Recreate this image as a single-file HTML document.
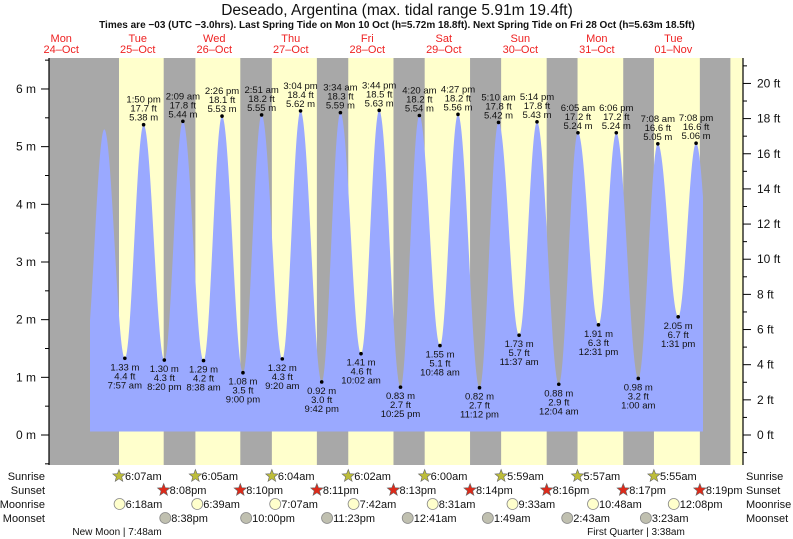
<!DOCTYPE html>
<html><head><meta charset="utf-8"><style>
body{margin:0;background:#fff;}
svg{display:block;font-family:"Liberation Sans",sans-serif;}
</style></head><body>
<svg id="c" width="793" height="539" viewBox="0 0 793 539" xmlns="http://www.w3.org/2000/svg">
<text x="397" y="15" font-size="15.5" text-anchor="middle" fill="#111">Deseado, Argentina (max. tidal range 5.91m 19.4ft)</text>
<text x="397" y="28" font-size="10" font-weight="bold" text-anchor="middle" fill="#111">Times are −03 (UTC −3.0hrs). Last Spring Tide on Mon 10 Oct (h=5.72m 18.8ft). Next Spring Tide on Fri 28 Oct (h=5.63m 18.5ft)</text>
<g id="bands"></g><g id="tide"></g><g id="axes"></g><g id="labels"></g><g id="bottom"></g>
</svg>
<script>
// time t = hours from 25-Oct 00:00
const dayNames=["Mon","Tue","Wed","Thu","Fri","Sat","Sun","Mon","Tue"];
const dayDates=["24–Oct","25–Oct","26–Oct","27–Oct","28–Oct","29–Oct","30–Oct","31–Oct","01–Nov"];
const sunrise=["6:07am","6:05am","6:04am","6:02am","6:00am","5:59am","5:57am","5:55am"];
const sunset=["8:08pm","8:10pm","8:11pm","8:13pm","8:14pm","8:16pm","8:17pm","8:19pm"];
const moonrise=[[0,"6:18am"],[1,"6:39am"],[2,"7:07am"],[3,"7:42am"],[4,"8:31am"],[5,"9:33am"],[6,"10:48am"],[7,"12:08pm"]];
const moonset=[[0,"8:38pm"],[1,"10:00pm"],[2,"11:23pm"],[4,"12:41am"],[5,"1:49am"],[6,"2:43am"],[7,"3:23am"]];
const tideTimes=["7:20pm","1:30am","7:57am","1:50pm","8:20pm","2:09am","8:38am","2:26pm","9:00pm","2:51am","9:20am","3:04pm","9:42pm","3:34am","10:02am","3:44pm","10:25pm","4:20am","10:48am","4:27pm","11:12pm","5:10am","11:37am","5:14pm","12:04am","6:05am","12:31pm","6:06pm","1:00am","7:08am","1:31pm","7:08pm","1:50am"];
const tideDays=[-1,0,0,0,0,1,1,1,1,2,2,2,2,3,3,3,3,4,4,4,4,5,5,5,6,6,6,6,7,7,7,7,8];
const tideHeights=[1.3,5.3,1.33,5.38,1.30,5.44,1.29,5.53,1.08,5.55,1.32,5.62,0.92,5.59,1.41,5.63,0.83,5.54,1.55,5.56,0.82,5.42,1.73,5.43,0.88,5.24,1.91,5.24,0.98,5.05,2.05,5.06,1.1];
const tideShown=[0,0,1,1,1,1,1,1,1,1,1,1,1,1,1,1,1,1,1,1,1,1,1,1,1,1,1,1,1,1,1,1,0];

const NS="http://www.w3.org/2000/svg";
const X0=99.5,PH=3.188,Y0=435,PM=57.67,TOP=58,BOT=465,LEFT=49,RIGHT=743;
const xs=t=>X0+t*PH, ys=m=>Y0-m*PM;
function ph(s){const m=s.match(/(\d+):(\d+)\s*(am|pm)/);let h=+m[1]%12;if(m[3]=="pm")h+=12;return h+ +m[2]/60;}
function el(tag,attrs,parent,txt){const e=document.createElementNS(NS,tag);for(const k in attrs)e.setAttribute(k,attrs[k]);if(txt!==undefined)e.textContent=txt;parent.appendChild(e);return e;}
const G=id=>document.getElementById(id);

const bands=G('bands');
let r=el('rect',{x:LEFT,y:TOP,width:RIGHT-LEFT,height:BOT-TOP,fill:'#a8a8a8'},bands);


for(let d=0;d<9;d++){
  const sr=d<8?xs(d*24+ph(sunrise[d])):xs(8*24+5.9);
  const ss=d<8?xs(d*24+ph(sunset[d])):RIGHT;
  const b=el('rect',{x:sr,y:TOP,width:Math.min(ss,RIGHT)-sr,height:BOT-TOP,fill:'#ffffcc'},bands);
  
  
}
for(let i=0;i<9;i++){
  const cx=xs((i-1)*24+12);
  const a=el('text',{x:cx,y:42,'font-size':11,'text-anchor':'middle',fill:'#ee2222'},bands,dayNames[i]);
  
  
  const b=el('text',{x:cx,y:53,'font-size':11,'text-anchor':'middle',fill:'#ee2222'},bands,dayDates[i]);
  
  
}
const ts=tideTimes.map((s,i)=>tideDays[i]*24+ph(s));
function h(t){for(let i=0;i<ts.length-1;i++){if(t>=ts[i]&&t<=ts[i+1]){const f=(t-ts[i])/(ts[i+1]-ts[i]);return tideHeights[i]+(tideHeights[i+1]-tideHeights[i])*(1-Math.cos(Math.PI*f))/2;}}return tideHeights[0];}
const xa=90,xb=703,base=ys(0.06);
let d=`M${xa},${base}`;
for(let x=xa;x<=xb;x+=0.5){d+=` L${x},${ys(h((x-X0)/PH)).toFixed(1)}`;}
d+=` L${xb},${base} Z`;
const p=el('path',{d:d,fill:'#9aa9ff'},G('tide'));



const L=G('labels');
ts.forEach((t,i)=>{
  if(!tideShown[i])return;
  const x=xs(t),y=ys(tideHeights[i]),hi=tideHeights[i]>3;
  const c=el('circle',{cx:x,cy:y,r:1.8,fill:'#000'},L);
  
  
  const ft=(tideHeights[i]*3.2808).toFixed(1)+' ft', m=tideHeights[i].toFixed(2)+' m', tm=tideTimes[i].replace(/(am|pm)/,' $1');
  const lines=hi?[tm,ft,m]:[m,ft,tm];
  lines.forEach((s,j)=>{
    const yy=hi?y-4-(2-j)*9:y+12+j*9;
    const tx=el('text',{x:x,y:yy,'font-size':9.5,'text-anchor':'middle',fill:'#111'},L,s);
    
    
  });
});

const A=G('axes');
let ax=el('line',{x1:LEFT,y1:TOP,x2:LEFT,y2:BOT,stroke:'#000','stroke-width':1.2},A);


ax=el('line',{x1:RIGHT,y1:TOP,x2:RIGHT,y2:BOT,stroke:'#000','stroke-width':1.2},A);


for(let m=-0.5;m<=6.5;m+=0.5){
  const y=ys(m);if(y<TOP||y>BOT)continue;
  const major=Number.isInteger(m)&&m>=0;
  el('line',{x1:LEFT-(major?8:4),y1:y,x2:LEFT,y2:y,stroke:'#000'},A);
  if(major){const t=el('text',{x:36,y:y+4,'font-size':12,'text-anchor':'end',fill:'#111'},A,m+' m');
    
    }
}
for(let f=-1;f<=21;f++){
  const y=ys(f/3.2808);if(y<TOP||y>BOT)continue;
  const major=f%2==0&&f>=0;
  el('line',{x1:RIGHT,y1:y,x2:RIGHT+(major?8:4),y2:y,stroke:'#000'},A);
  if(major){const t=el('text',{x:757,y:y+4,'font-size':12,fill:'#111'},A,f+' ft');
    
    }
}

const B=G('bottom');
const rows=[["Sunrise",480],["Sunset",494],["Moonrise",508],["Moonset",522]];
rows.forEach(([n,y])=>{
  let a=el('text',{x:45,y:y,'font-size':11,'text-anchor':'end',fill:'#111'},B,n);
  
  
  a=el('text',{x:746,y:y,'font-size':11,fill:'#111'},B,n);
  
  
});
function star(cx,cy,fill){let s='';for(let k=0;k<10;k++){const a=-Math.PI/2+k*Math.PI/5,rr=k%2?2.8:6.5;s+=(cx+rr*Math.cos(a)).toFixed(1)+','+(cy+rr*Math.sin(a)).toFixed(1)+' ';}return el('polygon',{points:s,fill:fill,stroke:'#666','stroke-width':0.6},B);}
function item(x,y,icon,txt,name){
  let ic;
  if(icon=='sr')ic=star(x,y-4,'#bdbd3a');
  else if(icon=='ss')ic=star(x,y-4,'#dd2a1a');
  else ic=el('circle',{cx:x,cy:y-4,r:5.5,fill:icon=='mr'?'#ffffcc':'#c0c0b0',stroke:'#888','stroke-width':0.8},B);
  
  
  const t=el('text',{x:x+6,y:y,'font-size':11,fill:'#111'},B,txt);
  
  
}
sunrise.forEach((s,i)=>item(xs(i*24+ph(s)),480,'sr',s,'sunrise'));
sunset.forEach((s,i)=>item(xs(i*24+ph(s)),494,'ss',s,'sunset'));
moonrise.forEach(([i,s])=>item(xs(i*24+ph(s)),508,'mr',s,'moonrise'));
moonset.forEach(([i,s])=>item(xs(i*24+ph(s)),522,'ms',s,'moonset'));
let mp=el('text',{x:117,y:535,'font-size':10,'text-anchor':'middle',fill:'#111'},B,'New Moon | 7:48am');


mp=el('text',{x:636,y:535,'font-size':10,'text-anchor':'middle',fill:'#111'},B,'First Quarter | 3:38am');


</script>
</body></html>
